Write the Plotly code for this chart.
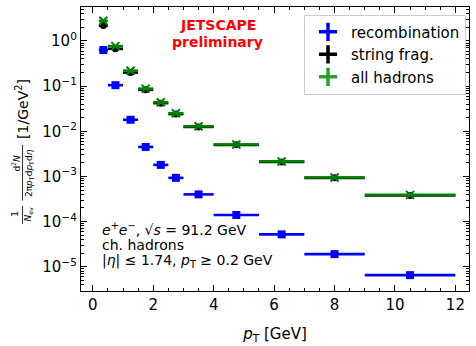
import plotly.graph_objects as go

# ---- data ----
pt_centers = [0.35, 0.75, 1.25, 1.75, 2.25, 2.75, 3.5, 4.75, 6.25, 8.0, 10.5]
pt_halfwidth = [0.15, 0.25, 0.25, 0.25, 0.25, 0.25, 0.5, 0.75, 0.75, 1.0, 1.5]
recombination = [0.63, 0.105, 0.018, 0.0045, 0.0018, 0.00093, 0.00040, 0.00014, 5.2e-5, 1.9e-5, 6.5e-6]
string_frag = [2.2, 0.67, 0.20, 0.083, 0.042, 0.024, 0.0125, 0.0050, 0.0021, 0.00093, 0.00038]
all_hadrons = [2.8, 0.77, 0.22, 0.088, 0.044, 0.025, 0.0129, 0.0051, 0.00215, 0.00095, 0.00039]
y_tick_vals = [1e0, 1e-1, 1e-2, 1e-3, 1e-4, 1e-5]
y_tick_text = ["10<sup>0</sup>", "10<sup>−1</sup>", "10<sup>−2</sup>", "10<sup>−3</sup>", "10<sup>−4</sup>", "10<sup>−5</sup>"]
x_tick_vals = [0, 2, 4, 6, 8, 10, 12]

FONT = "DejaVu Sans"
W, H = 476, 346
L, R, T, B = 81, 6, 7, 38

fig = go.Figure()

def add_series(yvals, color, symbol, size, name, line_w=0):
    fig.add_trace(go.Scatter(
        x=pt_centers, y=yvals, mode="markers", showlegend=False, name=name,
        marker=dict(color=color, symbol=symbol, size=size,
                    line=dict(color=color, width=line_w)),
        error_x=dict(type="data", array=pt_halfwidth, color=color, thickness=2.6, width=0),
    ))

add_series(recombination, "#0000ff", "square", 8, "recombination")
add_series(string_frag, "#000000", "circle", 7, "string frag.")
add_series(all_hadrons, "#008000", "x-thin", 8, "all hadrons", line_w=2)

# legend entries
for name, color in [("recombination", "#0000ff"), ("string frag.", "#000000"), ("all hadrons", "#2a9d2a")]:
    fig.add_trace(go.Scatter(
        x=[None], y=[None], mode="markers", name=name, showlegend=True,
        marker=dict(color=color, symbol="cross-thin", size=13, line=dict(color=color, width=3.5)),
    ))

minor_y = [k * 10.0 ** e for e in range(-6, 1) for k in range(2, 10)]

axis_common = dict(
    showline=True, linecolor="black", linewidth=1.3, mirror="allticks",
    ticks="inside", tickcolor="black", showgrid=False, zeroline=False,
    tickfont=dict(family=FONT, size=15, color="black"),
)

fig.update_xaxes(
    range=[-0.39, 12.45], tickvals=x_tick_vals, ticklen=6, tickwidth=1,
    minor=dict(ticks="inside", dtick=0.5, tick0=0, ticklen=3, tickcolor="black", showgrid=False),
    title=dict(text="<i>p</i><sub>T</sub> [GeV]", font=dict(family=FONT, size=15, color="black"), standoff=15),
    **axis_common,
)
fig.update_yaxes(
    type="log", range=[-5.538, 0.753], tickvals=y_tick_vals, ticktext=y_tick_text,
    ticklen=6, tickwidth=1,
    minor=dict(ticks="inside", tickvals=minor_y, ticklen=3, tickcolor="black", showgrid=False),
    **axis_common,
)

annotations = []
ph = H - T - B

def ypx(y):
    return (H - B - y) / ph

def add_rot(text, xpx, ycen, size):
    annotations.append(dict(
        text=text, xref="paper", yref="paper", x=0, y=ypx(ycen), xshift=xpx - L,
        xanchor="center", yanchor="middle", textangle=-90, showarrow=False,
        font=dict(family=FONT, size=size, color="black"),
    ))

add_rot("1", 15, 226, 9)
add_rot("<i>N</i><sub>ev</sub>", 29, 227, 9)
add_rot("d<sup>2</sup><i>N</i>", 16, 173, 9)
add_rot("2π<i>p</i><sub>T</sub>d<i>p</i><sub>T</sub>d<i>η</i>", 29, 183, 9)
add_rot("[1/GeV<sup>2</sup>]", 22, 115, 14)

shapes = []
for y0, y1 in [(218, 237), (153, 212)]:
    shapes.append(dict(type="line", xref="paper", yref="paper", xsizemode="pixel", xanchor=0,
                       x0=22.5 - L, x1=22.5 - L, y0=ypx(y0), y1=ypx(y1),
                       line=dict(color="black", width=0.8)))

# JETSCAPE preliminary
pw = W - L - R
def xp(x):
    return (x - L) / pw

annotations.append(dict(text="<b>JETSCAPE</b>", xref="paper", yref="paper", x=xp(218), y=ypx(26),
                        xanchor="center", yanchor="middle", showarrow=False,
                        font=dict(family=FONT, size=14, color="#ff0000")))
annotations.append(dict(text="<b>preliminary</b>", xref="paper", yref="paper", x=xp(218), y=ypx(44),
                        xanchor="center", yanchor="middle", showarrow=False,
                        font=dict(family=FONT, size=14, color="#ff0000")))

for txt, yc in [("<i>e</i><sup>+</sup><i>e</i><sup>−</sup>, √<i>s</i> = 91.2 GeV", 242),
                ("ch. hadrons", 259),
                ("|<i>η</i>| ≤ 1.74, <i>p</i><sub>T</sub> ≥ 0.2 GeV", 276)]:
    annotations.append(dict(text=txt, xref="paper", yref="paper", x=xp(100), y=ypx(yc),
                            xanchor="left", yanchor="middle", showarrow=False,
                            font=dict(family=FONT, size=14, color="black")))

fig.update_layout(
    width=W, height=H, margin=dict(l=L, r=R, t=T, b=B),
    paper_bgcolor="white", plot_bgcolor="white",
    font=dict(family=FONT, size=14, color="black"),
    legend=dict(x=xp(467), y=ypx(15), xanchor="right", yanchor="top",
                bgcolor="white", bordercolor="#cccccc", borderwidth=1,
                font=dict(family=FONT, size=15, color="black"), itemwidth=36),
    annotations=annotations, shapes=shapes,
)

fig.write_html("out.html")
